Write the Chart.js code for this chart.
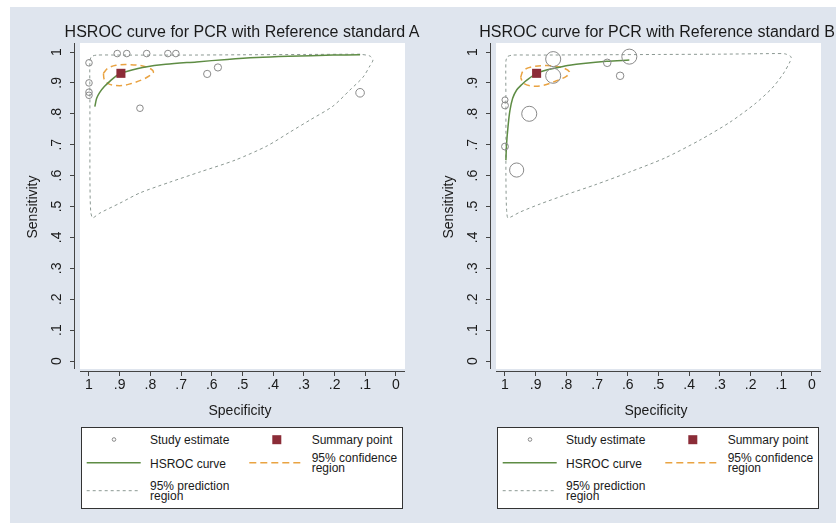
<!DOCTYPE html>
<html>
<head>
<meta charset="utf-8">
<script src="https://cdn.jsdelivr.net/npm/chart.js@4.4.1/dist/chart.umd.min.js"></script>
<style>
  body { margin: 0; background: #fff; font-family: "Liberation Sans", Arial, sans-serif; }
  #bg { position: absolute; left: 10px; top: 7px; width: 826px; height: 516px; background: #dfe5ee; }
  canvas { position: absolute; top: 7px; }
  .title { position: absolute; top: 23.5px; width: 500px; text-align: center; font-size: 16px; line-height: 16px; color: #1a1a1a; white-space: nowrap; }
  .legend { position: absolute; top: 427px; width: 322px; height: 82px; box-sizing: border-box; border: 1px solid #333; background: #fff; }
  .legend svg { position: absolute; left: 0; top: 0; }
  .legend div { position: absolute; font-size: 12px; line-height: 10px; color: #1a1a1a; white-space: nowrap; }
</style>
</head>
<body>
<div id="bg"></div>
<canvas id="chartA" width="410" height="413" style="left:10px"></canvas>
<canvas id="chartB" width="410" height="413" style="left:426px"></canvas>
<div class="title" style="left:-8px">HSROC curve for PCR with Reference standard A</div>
<div class="title" style="left:407px">HSROC curve for PCR with Reference standard B</div>
<div class="legend" id="legA" style="left:81px"></div>
<div class="legend" id="legB" style="left:497px"></div>
<script>
// axis ticks
const tickValues = [0, 0.1, 0.2, 0.3, 0.4, 0.5, 0.6, 0.7, 0.8, 0.9, 1];

// Reference standard A
const studyA_spec = [1.0, 1.0, 1.0, 1.0, 0.908, 0.877, 0.812, 0.743, 0.717, 0.834, 0.615, 0.58, 0.117];
const studyA_sens = [0.965, 0.90, 0.87, 0.86, 0.995, 0.995, 0.995, 0.995, 0.995, 0.818, 0.929, 0.95, 0.868];
const studyA_weight = [1, 1, 1, 1, 1, 1, 1, 1, 1, 1, 1.2, 1.2, 1.7];
const summaryA = [0.896, 0.931];
const hsrocA_spec = [0.981, 0.975, 0.966, 0.95, 0.928, 0.911, 0.896, 0.86, 0.825, 0.75, 0.65, 0.55, 0.454, 0.35, 0.205, 0.117];
const hsrocA_sens = [0.823, 0.85, 0.868, 0.888, 0.909, 0.923, 0.931, 0.942, 0.95, 0.96, 0.968, 0.976, 0.982, 0.986, 0.99, 0.991];
const confA_spec = [0.953, 0.939, 0.912, 0.869, 0.825, 0.798, 0.79, 0.798, 0.825, 0.869, 0.90, 0.934, 0.95, 0.953];
const confA_sens = [0.931, 0.947, 0.957, 0.959, 0.955, 0.945, 0.935, 0.926, 0.911, 0.896, 0.891, 0.896, 0.911, 0.931];
const predA_spec = [0.117, 0.3, 0.5, 0.7, 0.9, 0.975, 0.992, 0.997, 0.997, 0.997, 0.997, 0.996, 0.994, 0.99, 0.987, 0.964, 0.899, 0.834, 0.736, 0.638, 0.524, 0.42, 0.345, 0.28, 0.205, 0.15, 0.107, 0.085, 0.075, 0.085, 0.117];
const predA_sens = [0.993, 0.992, 0.991, 0.99, 0.99, 0.99, 0.985, 0.97, 0.85, 0.7, 0.6, 0.52, 0.48, 0.465, 0.463, 0.479, 0.511, 0.544, 0.579, 0.612, 0.65, 0.696, 0.741, 0.78, 0.825, 0.877, 0.919, 0.955, 0.974, 0.987, 0.993];

// Reference standard B
const studyB_spec = [0.843, 0.595, 0.667, 0.625, 0.843, 1.0, 1.0, 0.921, 1.0, 0.962];
const studyB_sens = [0.977, 0.985, 0.965, 0.923, 0.923, 0.845, 0.827, 0.80, 0.694, 0.618];
const studyB_weight = [5.2, 5.2, 1.3, 1.3, 5.2, 0.85, 1.1, 5.2, 1.1, 4.6];
const summaryB = [0.897, 0.931];
const hsrocB_spec = [0.997, 0.995, 0.99, 0.984, 0.975, 0.962, 0.945, 0.929, 0.897, 0.865, 0.832, 0.79, 0.745, 0.669, 0.595];
const hsrocB_sens = [0.65, 0.70, 0.76, 0.81, 0.85, 0.877, 0.895, 0.909, 0.931, 0.942, 0.949, 0.957, 0.963, 0.97, 0.974];
const confB_spec = [0.949, 0.94, 0.913, 0.864, 0.815, 0.79, 0.799, 0.832, 0.875, 0.913, 0.94, 0.949];
const confB_sens = [0.918, 0.94, 0.952, 0.956, 0.95, 0.936, 0.922, 0.907, 0.892, 0.89, 0.899, 0.918];
const predB_spec = [0.121, 0.3, 0.5, 0.7, 0.9, 0.975, 0.992, 0.997, 0.997, 0.997, 0.997, 0.996, 0.994, 0.99, 0.951, 0.886, 0.805, 0.707, 0.593, 0.479, 0.365, 0.267, 0.186, 0.13, 0.094, 0.072, 0.068, 0.088, 0.121];
const predB_sens = [0.995, 0.993, 0.992, 0.991, 0.99, 0.99, 0.985, 0.97, 0.85, 0.7, 0.6, 0.52, 0.48, 0.463, 0.482, 0.508, 0.537, 0.57, 0.612, 0.657, 0.715, 0.773, 0.832, 0.883, 0.929, 0.968, 0.984, 0.994, 0.995];

const GREEN = '#5e8c44', ORANGE = '#e9a342', GRAY = '#8c9993', CIRCLE = '#8a8a8a', SQUARE = '#8b2c37', AXIS = '#444';

Chart.defaults.font.family = '"Liberation Sans", Arial, sans-serif';

function pts(xs, ys) {
  return xs.map((x, i) => ({ x: x, y: ys[i] }));
}

function tickText(v) {
  if (v === 0) return '0';
  if (v === 1) return '1';
  return '.' + Math.round(v * 10);
}

// white plot region inset from the axis lines; axis lines kept apart like Stata
const plotBg = {
  id: 'plotBg',
  beforeDraw(chart) {
    const a = chart.chartArea, c = chart.ctx;
    c.save();
    c.fillStyle = '#fff';
    c.fillRect(a.left + 5, a.top, a.right - a.left - 5, a.bottom - a.top - 2);
    c.strokeStyle = AXIS;
    c.lineWidth = 1;
    c.beginPath();
    c.moveTo(Math.round(a.left) - 0.5, a.top);
    c.lineTo(Math.round(a.left) - 0.5, a.bottom - 2);
    c.moveTo(a.left + 5, Math.round(a.bottom) + 0.5);
    c.lineTo(a.right, Math.round(a.bottom) + 0.5);
    c.stroke();
    c.restore();
  }
};

function makeChart(id, s) {
  return new Chart(document.getElementById(id), {
    type: 'scatter',
    data: {
      datasets: [
        {
          label: 'Summary point',
          data: [{ x: s.summary[0], y: s.summary[1] }],
          pointStyle: 'rect',
          pointRadius: 6.4,
          pointBackgroundColor: SQUARE,
          pointBorderColor: SQUARE,
          pointBorderWidth: 0,
        },
        {
          label: 'Study estimate',
          data: pts(s.spec, s.sens),
          pointStyle: 'circle',
          pointRadius: s.weight.map((w) => 3.3 * Math.sqrt(w)),
          pointBackgroundColor: 'rgba(0,0,0,0)',
          pointBorderColor: CIRCLE,
          pointBorderWidth: 1,
        },
        {
          label: 'HSROC curve',
          data: pts(s.hsrocSpec, s.hsrocSens),
          showLine: true,
          pointRadius: 0,
          borderColor: GREEN,
          borderWidth: 1.5,
          tension: 0.3,
        },
        {
          label: '95% confidence region',
          data: pts(s.confSpec, s.confSens),
          showLine: true,
          pointRadius: 0,
          borderColor: ORANGE,
          borderWidth: 1.5,
          borderDash: [6, 4],
          tension: 0.35,
        },
        {
          label: '95% prediction region',
          data: pts(s.predSpec, s.predSens),
          showLine: true,
          pointRadius: 0,
          borderColor: GRAY,
          borderWidth: 1,
          borderDash: [3, 3],
          tension: 0.25,
        },
      ],
    },
    options: {
      responsive: false,
      animation: false,
      devicePixelRatio: 1,
      layout: { padding: { top: 36, right: 15, left: 0, bottom: 0 } },
      plugins: { legend: { display: false }, tooltip: { enabled: false } },
      scales: {
        x: {
          type: 'linear',
          reverse: true,
          min: -0.02935,
          max: 1.04557,
          afterBuildTicks: (scale) => { scale.ticks = tickValues.map((v) => ({ value: v })); },
          afterFit: (scale) => { scale.height = 49; },
          grid: { display: true, drawOnChartArea: false, drawTicks: true, tickLength: 5, color: AXIS },
          border: { display: false },
          ticks: { callback: tickText, color: '#1a1a1a', font: { size: 14 }, padding: 1, maxRotation: 0, autoSkip: false },
          title: { display: true, text: 'Specificity', color: '#1a1a1a', font: { size: 14 }, padding: { top: 0, bottom: 0 } },
        },
        y: {
          type: 'linear',
          min: -0.03236,
          max: 1.02913,
          afterBuildTicks: (scale) => { scale.ticks = tickValues.map((v) => ({ value: v })); },
          // Stata draws the y labels turned a quarter turn
          afterCalculateLabelRotation: (scale) => { scale.labelRotation = 90; },
          afterFit: (scale) => { scale.width = 65; },
          grid: { display: true, drawOnChartArea: false, drawTicks: true, tickLength: 5, color: AXIS },
          border: { display: false },
          ticks: { callback: tickText, color: '#1a1a1a', font: { size: 14 }, padding: 7, crossAlign: 'center', autoSkip: false },
          title: { display: true, text: 'Sensitivity', color: '#1a1a1a', font: { size: 14 }, padding: { top: 15, bottom: 0 } },
        },
      },
    },
    plugins: [plotBg],
  });
}

function makeLegend(id) {
  const box = document.getElementById(id);
  box.innerHTML = `
    <svg width="320" height="80">
      <circle cx="32" cy="11.5" r="1.8" fill="none" stroke="${CIRCLE}" stroke-width="1"/>
      <rect x="190.3" y="7.2" width="9" height="9" fill="${SQUARE}"/>
      <line x1="4.7" y1="34.7" x2="58.7" y2="34.7" stroke="${GREEN}" stroke-width="1.5"/>
      <line x1="167.3" y1="34.7" x2="221.3" y2="34.7" stroke="${ORANGE}" stroke-width="1.5" stroke-dasharray="7 4"/>
      <line x1="4.7" y1="62.7" x2="58.7" y2="62.7" stroke="${GRAY}" stroke-width="1" stroke-dasharray="3 3"/>
    </svg>
    <div style="left:68px;top:6.8px">Study estimate</div>
    <div style="left:229.7px;top:6.8px">Summary point</div>
    <div style="left:68px;top:30.8px">HSROC curve</div>
    <div style="left:229.7px;top:25.1px">95% confidence<br>region</div>
    <div style="left:68px;top:53.3px">95% prediction<br>region</div>`;
}

makeChart('chartA', {
  spec: studyA_spec, sens: studyA_sens, weight: studyA_weight, summary: summaryA,
  hsrocSpec: hsrocA_spec, hsrocSens: hsrocA_sens,
  confSpec: confA_spec, confSens: confA_sens,
  predSpec: predA_spec, predSens: predA_sens,
});
makeChart('chartB', {
  spec: studyB_spec, sens: studyB_sens, weight: studyB_weight, summary: summaryB,
  hsrocSpec: hsrocB_spec, hsrocSens: hsrocB_sens,
  confSpec: confB_spec, confSens: confB_sens,
  predSpec: predB_spec, predSens: predB_sens,
});
makeLegend('legA');
makeLegend('legB');
</script>
</body>
</html>
